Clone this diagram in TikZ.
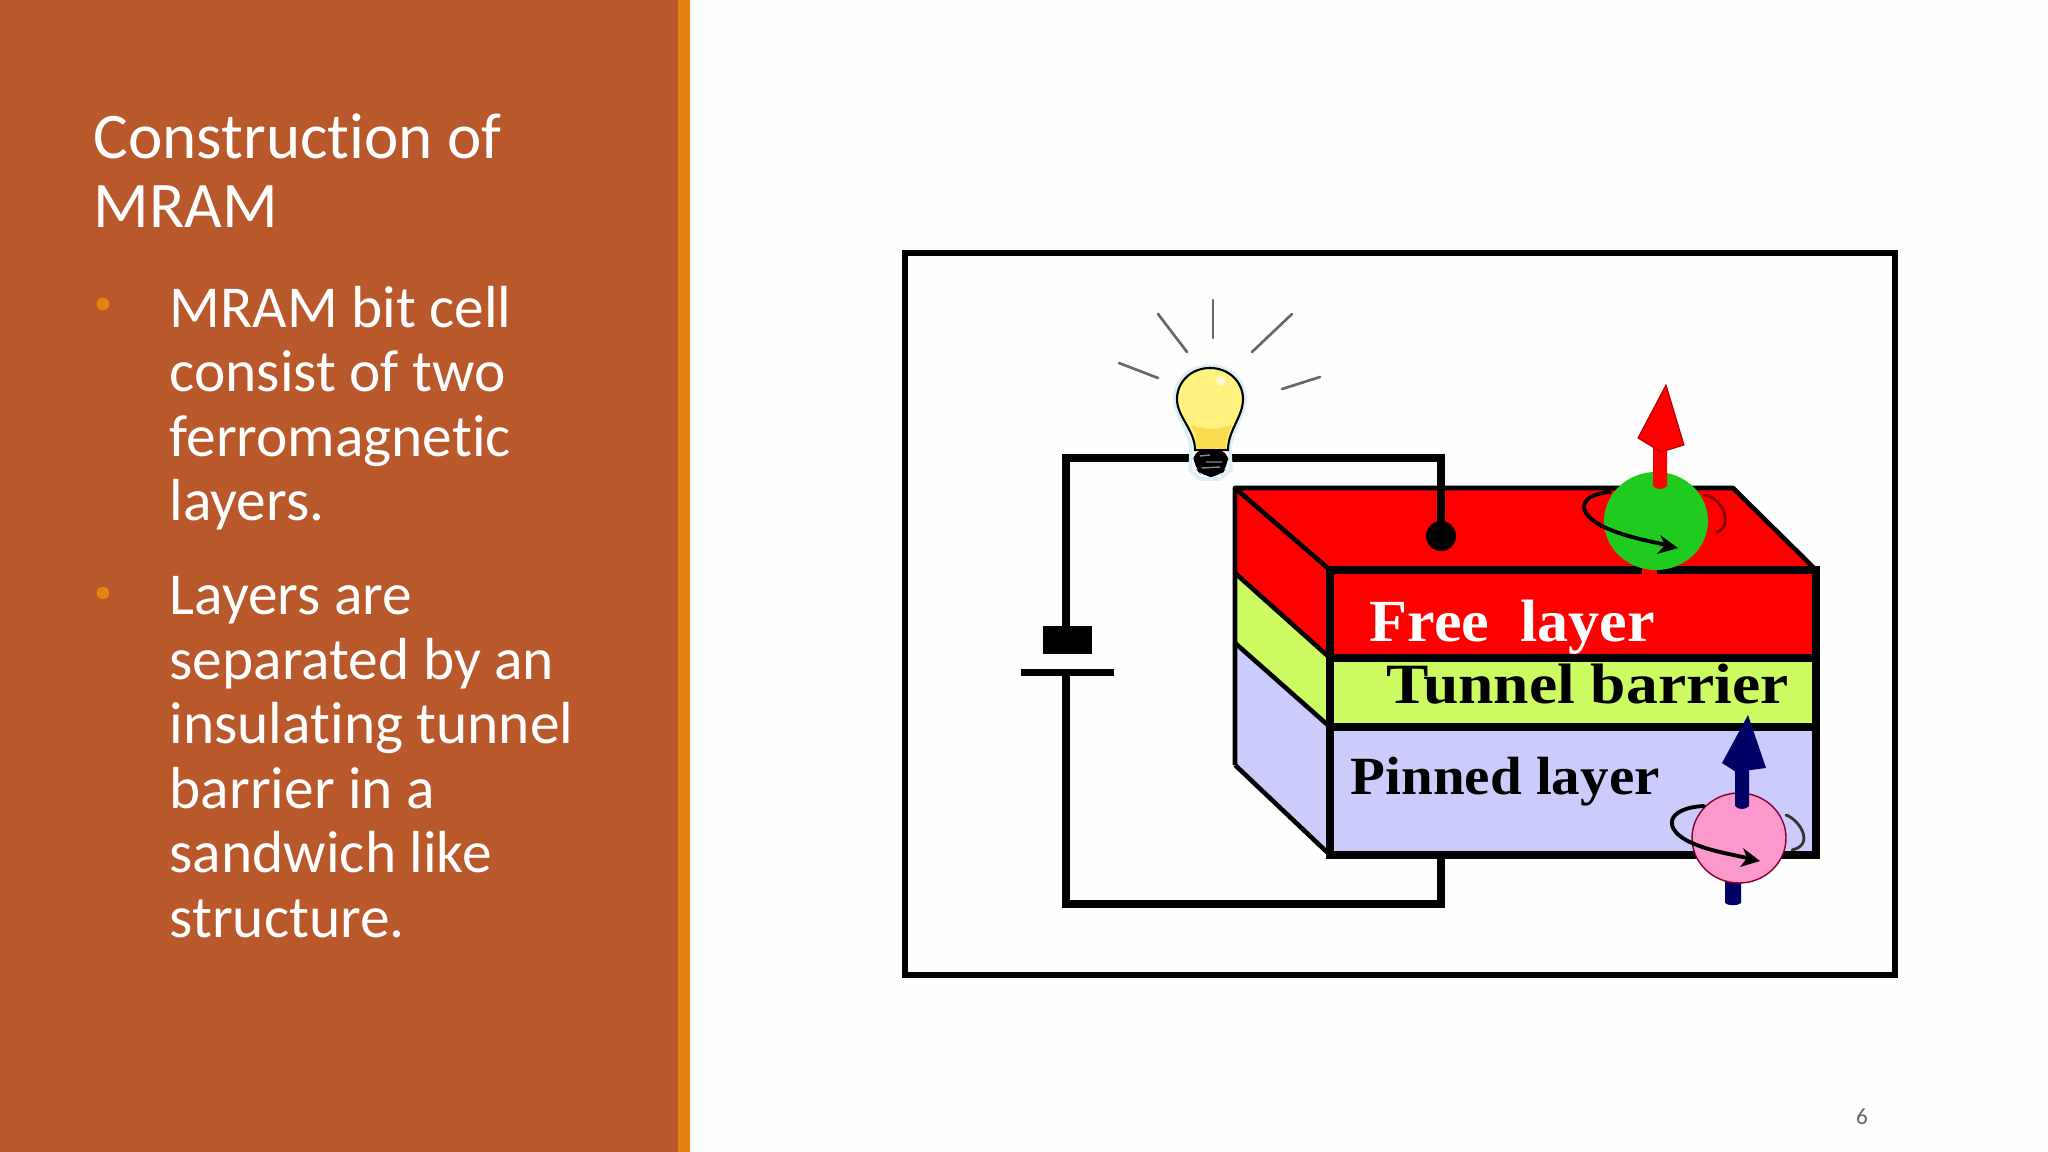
\documentclass[tikz,border=0pt]{standalone}
\usepackage{fontspec}
\usepackage{graphicx}
\setmainfont[Ligatures=NoCommon]{Carlito}
\newfontfamily\figfont{Liberation Serif}
\definecolor{panel}{HTML}{B8582B}
\definecolor{stripe}{HTML}{E48312}
\definecolor{paper}{HTML}{FEFEFE}
\definecolor{topred}{HTML}{FE0000}
\definecolor{midgreen}{HTML}{CCFC62}
\definecolor{lilac}{HTML}{CCCCFC}
\definecolor{spingreen}{HTML}{1FCB1F}
\definecolor{spinpink}{HTML}{FC99CC}
\definecolor{navyarrow}{HTML}{000066}
\definecolor{bulbglass}{HTML}{FFF27F}
\definecolor{bulbneck}{HTML}{F9DC50}
\definecolor{halo}{HTML}{DCEEF6}
\tikzset{
  slidetitle/.style={anchor=base west,inner sep=0pt,text=white,align=left,font=\fontsize{18.5}{19.7}\selectfont},
  slidebody/.style={anchor=base west,inner sep=0pt,text=white,align=left,font=\fontsize{16.9}{18.32}\selectfont},
  bulletdot/.style={circle,fill=stripe,inner sep=0pt,minimum size=3.6pt},
  wire/.style={line width=2.2pt,line cap=butt,line join=miter,draw=black},
  edgeheavy/.style={line width=2.2pt,draw=black,line join=miter},
  edgelight/.style={line width=1.3pt,draw=black,line join=round},
  ray/.style={line width=.75pt,draw=black!60,line cap=round},
  orbit/.style={line width=1.1pt,draw=black,line cap=round},
  orbitfar/.style={line width=.8pt,line cap=round},
  figlabel/.style={anchor=base west,inner sep=0pt,font=\figfont\bfseries},
}
\begin{document}
\begin{tikzpicture}[x=0.01cm,y=-0.01cm]
\useasboundingbox (0,0) rectangle (2048,1152);
\fill[paper] (0,0) rectangle (2048,1152);
\fill[panel] (0,0) rectangle (678,1152);
\fill[stripe] (678,0) rectangle (690,1152);

% slide text (the base anchor of a multi-line node is its last line)
\node[slidetitle] (title) at (93,228) {Construction of\\MRAM};
\node[bulletdot] (bulletone) at (103,304) {};
\node[bulletdot] (bullettwo) at (103,593) {};
\node[slidebody] (bodyone) at (169,520.5) {MRAM bit cell\\consist of two\\ferromagnetic\\layers.};
\node[slidebody] (bodytwo) at (169,937) {Layers are\\separated by an\\insulating tunnel\\barrier in a\\sandwich like\\structure.};
\node[anchor=base,inner sep=0pt,text=black!60,font=\fontsize{6.6}{8}\selectfont] (pagenum) at (1862,1124) {6};

% picture frame
\draw[line width=1.5pt,black] (905,253) rectangle (1895,975);

% light rays
\draw[ray] (1213,300) -- (1213,338);
\draw[ray] (1158,314) -- (1187,352);
\draw[ray] (1292,314) -- (1252,352);
\draw[ray] (1119,363) -- (1158,378);
\draw[ray] (1320,377) -- (1282,389);

% circuit
\coordinate (wiretopleft) at (1066,458);
\coordinate (wiretopright) at (1441,458);
\coordinate (contact) at (1441,536);
\coordinate (plusplate) at (1066,640);
\coordinate (minusplate) at (1066,672);
\coordinate (wirebotleft) at (1067,904);
\coordinate (wirebotright) at (1441,904);
\coordinate (stacklow) at (1441,855);
\draw[wire] (plusplate) -- (wiretopleft) -- (wiretopright) -- (contact);
\draw[wire] (minusplate) -- (1066,904) -- (wirebotright) -- (stacklow);
\fill[black] (1043,626) rectangle (1092,654);
\fill[black] (1021,669) rectangle (1114,676);

% bulb
\path[fill=white,draw=halo,line width=1pt]
  (1210,366) .. controls (1190,366) and (1174,380) .. (1175,399)
  .. controls (1175,418) and (1191,430) .. (1191,452)
  -- (1190,470) -- (1200,479) -- (1220,479) -- (1231,470) -- (1230,452)
  .. controls (1230,430) and (1245,418) .. (1245,399)
  .. controls (1245,380) and (1230,366) .. (1210,366) -- cycle;
\path[fill=bulbglass,draw=black,line width=.6pt]
  (1210,368) .. controls (1191,368) and (1177,382) .. (1177,399)
  .. controls (1177,417) and (1195,430) .. (1195,450) -- (1228,450)
  .. controls (1228,430) and (1243,417) .. (1243,399)
  .. controls (1243,382) and (1229,368) .. (1210,368) -- cycle;
\fill[bulbneck] (1197,449) -- (1226,449) .. controls (1226,440) and (1228,432) .. (1232,425)
  .. controls (1222,430) and (1204,430) .. (1191,425) .. controls (1195,432) and (1197,440) .. (1197,449) -- cycle;
\fill[white!60!bulbglass] (1221,381) circle (5);
\fill[black,rounded corners=3] (1193,450) -- (1228,450) -- (1228,467) -- (1219,477) -- (1203,477) -- (1194,467) -- cycle;
\draw[black!45,line width=.4pt] (1200,456) -- (1210,455) (1206,462) -- (1222,462) (1202,468) -- (1220,467);

% layered stack: side faces
\fill[topred] (1235,488) -- (1330,570) -- (1330,658) -- (1235,573) -- cycle;
\fill[midgreen] (1235,573) -- (1330,658) -- (1330,727) -- (1235,643) -- cycle;
\fill[lilac] (1235,643) -- (1330,727) -- (1330,855) -- (1235,765) -- cycle;
% top face and front faces
\fill[topred] (1235,488) -- (1733,488) -- (1816,570) -- (1330,570) -- cycle;
\fill[topred] (1330,570) rectangle (1816,658);
\fill[midgreen] (1330,658) rectangle (1816,727);
\fill[lilac] (1330,727) rectangle (1816,855);
% stack edges
\draw[edgelight] (1235,573) -- (1330,658) (1235,643) -- (1330,727);
\draw[edgelight] (1235,765) -- (1235,488) -- (1733,488) -- (1816,570);
\draw[edgelight] (1235,488) -- (1330,570);
\draw[edgelight] (1235,765) -- (1330,855);
\draw[edgeheavy] (1330,570) rectangle (1816,855);
\draw[edgeheavy] (1330,658) -- (1816,658) (1330,727) -- (1816,727);
% contact dot over the top face
\draw[wire] (1441,484) -- (contact);
\fill[black] (contact) circle (15);

% labels
\node[figlabel,text=white] (freelabel) at (1369,641) {\fontsize{17}{17}\selectfont\scalebox{1.04}[1.0]{Free\ \ layer}};
\node[figlabel,text=black] (tunnellabel) at (1386,703) {\fontsize{16.2}{17}\selectfont\scalebox{1.115}[1.0]{Tunnel barrier}};
\node[figlabel,text=black] (pinnedlabel) at (1350,794) {\fontsize{15.3}{17}\selectfont\scalebox{1.06}[1.0]{Pinned layer}};

% free-layer spin
\fill[topred] (1642,565) -- (1657,565) -- (1657,592) .. controls (1655,596) and (1644,596) .. (1642,592) -- cycle;
\draw[orbitfar,draw=red!55!black] (1704,495) .. controls (1722,497) and (1735,525) .. (1716,533);
\fill[spingreen] (1656,521) ellipse (52 and 49);
\fill[topred] (1653,440) -- (1653,486) .. controls (1656,490) and (1664,490) .. (1667,486) -- (1667,440) -- cycle;
\fill[topred,draw=red!70!black,line width=.3pt] (1666,385) -- (1638,438) -- (1661,452) -- (1684,445) -- cycle;
\draw[orbit] (1610,492) .. controls (1575,495) and (1578,515) .. (1604,527) .. controls (1625,537) and (1650,541) .. (1670,546);
\fill[black] (1678,548) -- (1660,535) -- (1665,545) -- (1657,554) -- cycle;

% pinned-layer spin
\fill[navyarrow] (1725,875) -- (1741,875) -- (1741,903) .. controls (1738,906) and (1728,906) .. (1725,903) -- cycle;
\draw[orbitfar,draw=black!80] (1786,815) .. controls (1800,820) and (1815,845) .. (1792,850);
\fill[spinpink,draw=purple!70!black,line width=.4pt] (1739,838) ellipse (47 and 45);
\fill[navyarrow] (1735,760) -- (1735,806) .. controls (1738,810) and (1746,810) .. (1749,806) -- (1749,760) -- cycle;
\fill[navyarrow] (1748,715) -- (1722,763) -- (1736,772) -- (1766,768) -- cycle;
\draw[orbit] (1704,806) .. controls (1665,808) and (1662,830) .. (1692,843) .. controls (1710,851) and (1730,854) .. (1752,859);
\fill[black] (1760,861) -- (1743,848) -- (1747,858) -- (1740,867) -- cycle;
\end{tikzpicture}
\end{document}
